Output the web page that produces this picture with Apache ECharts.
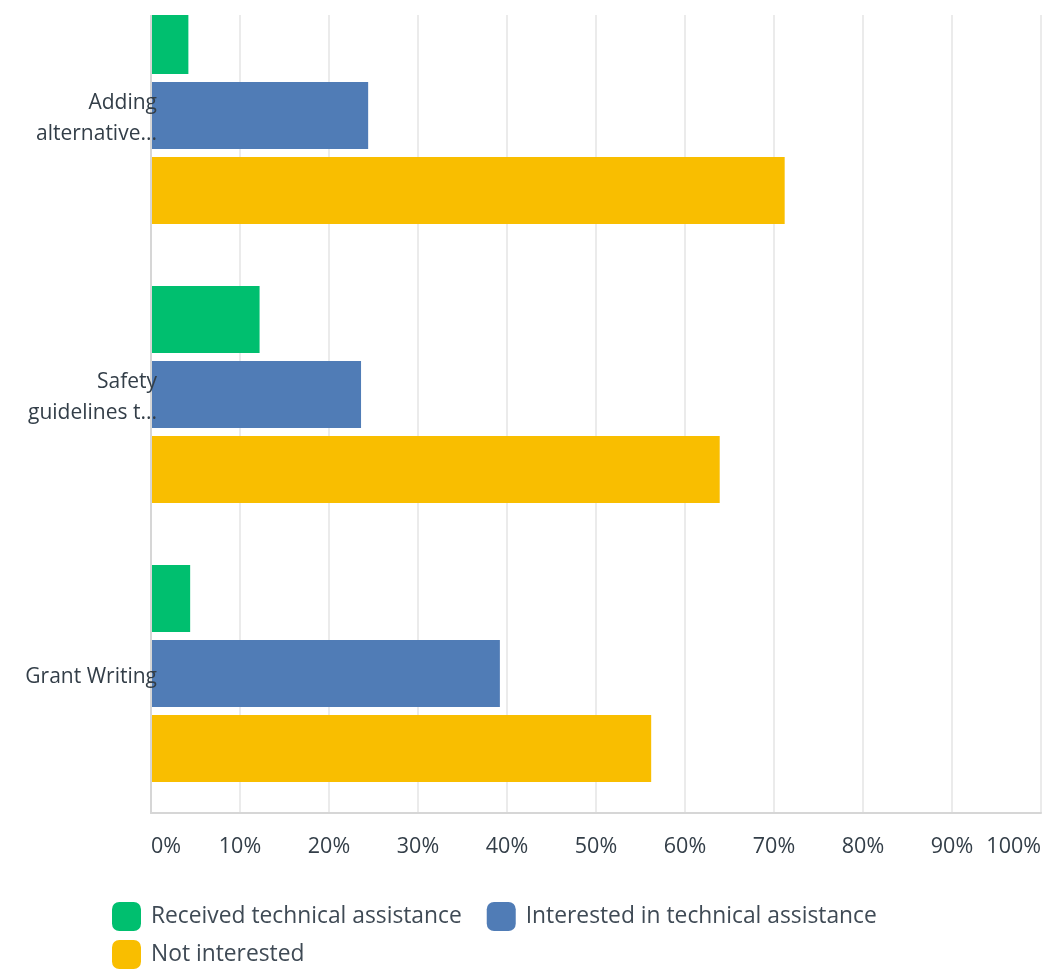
<!DOCTYPE html>
<html>
<head>
<meta charset="utf-8">
<script src="https://cdn.jsdelivr.net/npm/echarts@6/dist/echarts.min.js"></script>
<style>html,body{margin:0;padding:0;background:#fff;overflow:hidden;}#c{width:1057px;height:1004px;margin-top:-24px;}</style>
</head>
<body>
<div id="c"></div>
<script>
const categories = ['Adding\nalternative...', 'Safety\nguidelines t...', 'Grant Writing'];
const seriesNames = ['Received technical assistance', 'Interested in technical assistance', 'Not interested'];
const received = [4.2, 12.2, 4.4];
const interested = [24.4, 23.6, 39.2];
const notInterested = [71.2, 63.9, 56.2];
const xTicks = [0, 10, 20, 30, 40, 50, 60, 70, 80, 90, 100];
const colors = ['#00BF6F', '#507CB6', '#F9BE00'];

const OFF = 24; // chart canvas is shifted up by this many pixels
const chart = echarts.init(document.getElementById('c'), null, {renderer: 'canvas'});
const font = "'Open Sans', 'Noto Sans', sans-serif";
const values = [received, interested, notInterested];
const legendText = {fontSize: 22.8, color: '#3f4a55', fontFamily: font, padding: [0, 0, 0, 5]};
chart.setOption({
  animation: false,
  backgroundColor: '#ffffff',
  grid: {left: 151, right: 16, top: 0, bottom: 167, containLabel: false},
  xAxis: {
    type: 'value', min: xTicks[0], max: xTicks[xTicks.length - 1], interval: 10,
    axisLine: {show: true, lineStyle: {color: '#d6d6d6', width: 2}},
    axisTick: {show: false},
    splitLine: {show: true, lineStyle: {color: '#ebebeb', width: 2}},
    axisLabel: {formatter: '{value}%', fontSize: 21.5, color: '#333e48', fontFamily: font, margin: 23,
      alignMinLabel: 'left', alignMaxLabel: 'right'}
  },
  yAxis: {
    type: 'category', data: categories, inverse: true, z: 10,
    axisLine: {show: true, lineStyle: {color: '#d6d6d6', width: 2}},
    axisTick: {show: false},
    axisLabel: {
      margin: -6, align: 'right',
      formatter: v => '{p| }\n' + v.split('\n').map(s => '{a|' + s + '}').join('\n'),
      rich: {
        p: {fontSize: 6, lineHeight: 7, fontFamily: font},
        a: {fontSize: 21, lineHeight: 31, color: '#333e48', fontFamily: font, align: 'right'}
      }
    }
  },
  legend: [
    {data: [seriesNames[0], seriesNames[1]], left: 112, top: 902 + OFF, orient: 'horizontal', padding: 0,
      itemWidth: 29, itemHeight: 29, itemGap: 25, icon: 'roundRect', textStyle: legendText, selectedMode: false},
    {data: [seriesNames[2]], left: 112, top: 940 + OFF, orient: 'horizontal', padding: 0,
      itemWidth: 29, itemHeight: 29, itemGap: 25, icon: 'roundRect', textStyle: legendText, selectedMode: false}
  ],
  series: seriesNames.map((n, i) => ({
    name: n, type: 'bar', data: values[i], barWidth: 67, barGap: '12%',
    itemStyle: {color: colors[i]}
  })),
  graphic: [{type: 'rect', left: 0, top: 0, z: 100, shape: {width: 1057, height: 15 + OFF}, style: {fill: '#ffffff'}}]
});
</script>
</body>
</html>
